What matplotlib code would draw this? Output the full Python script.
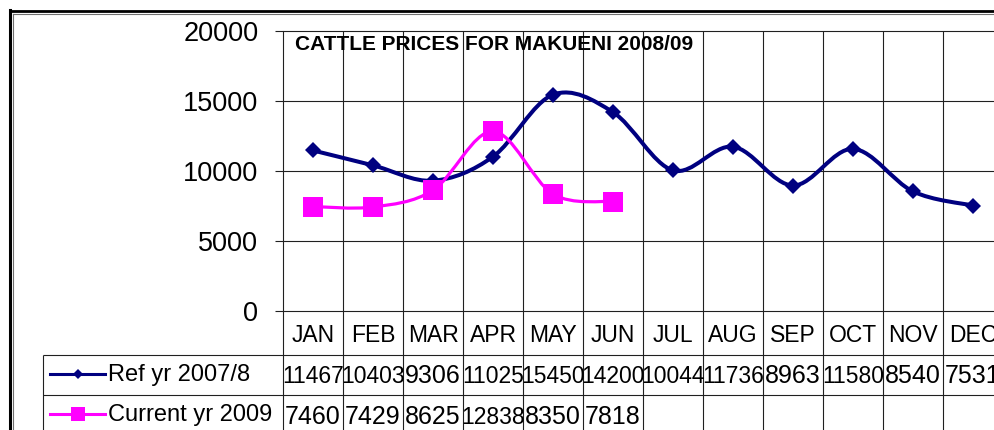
import numpy as np
import matplotlib
matplotlib.use("Agg")
import matplotlib.pyplot as plt
import matplotlib.transforms as mtrans
from matplotlib.path import Path
from matplotlib.patches import PathPatch
from matplotlib.lines import Line2D

months = ["JAN", "FEB", "MAR", "APR", "MAY", "JUN",
          "JUL", "AUG", "SEP", "OCT", "NOV", "DEC"]
ref_label = "Ref yr 2007/8"
ref_prices = [11467, 10403, 9306, 11025, 15450, 14200,
              10044, 11736, 8963, 11580, 8540, 7531]
cur_label = "Current yr 2009"
cur_prices = [7460, 7429, 8625, 12838, 8350, 7818]
yticks = [0, 5000, 10000, 15000, 20000]
title = "CATTLE PRICES FOR MAKUENI 2008/09"

NAVY = "#000080"
MAGENTA = "#ff00ff"
GRID = "#202020"

plt.rcParams.update({'font.family': 'Liberation Sans',
                     'figure.facecolor': 'w'})

W, H = 995, 430


def fx(px):
    return px / W


def fy(py):
    return 1 - py / H


def smooth_path(xs, ys):
    # excel style smoothed line (cubic bezier through the points)
    pts = np.column_stack([xs, ys]).astype(float)
    n = len(pts)
    verts = [pts[0]]
    codes = [Path.MOVETO]
    for i in range(n - 1):
        p0 = pts[i - 1] if i > 0 else pts[i]
        p1 = pts[i]
        p2 = pts[i + 1]
        p3 = pts[i + 2] if i + 2 < n else pts[i + 1]
        verts += [p1 + (p2 - p0) / 6, p2 - (p3 - p1) / 6, p2]
        codes += [Path.CURVE4] * 3
    return Path(verts, codes)


fig = plt.figure(figsize=(W / 100, H / 100), dpi=100)
ax = fig.add_axes([fx(283), fy(311), 720 / W, 280 / H])
blend = mtrans.blended_transform_factory(ax.transData, fig.transFigure)

x = np.arange(len(months))
ax.set_xlim(-0.5, len(months) - 0.5)
ax.set_ylim(0, 20000)

for s in ax.spines.values():
    s.set_visible(False)

ax.set_yticks(yticks)
ax.set_yticklabels([str(v) for v in yticks])
ax.tick_params(axis='y', length=5.8, width=0.8, color=GRID, pad=12,
               labelsize=19.5)
ax.set_xticks([])
ax.yaxis.grid(True, color=GRID, lw=0.8)
for gl in ax.get_ygridlines():
    gl.set_clip_on(False)
ax.set_axisbelow(True)

# category lines running through plot and data table
edges = np.arange(len(months) + 1) - 0.5
ax.vlines(edges, fy(440), fy(31), transform=blend, color=GRID, lw=0.8,
          clip_on=False)
tab_left = -4.5
ax.hlines([fy(355), fy(395)], tab_left, len(months) + 1, transform=blend,
          color=GRID, lw=0.8, clip_on=False)
ax.vlines([tab_left], fy(440), fy(355), transform=blend, color=GRID, lw=0.8,
          clip_on=False)

# series
ax.add_patch(PathPatch(smooth_path(x, ref_prices), fill=False,
                       edgecolor=NAVY, lw=2.9, capstyle='round',
                       joinstyle='round', zorder=3))
ax.plot(x, ref_prices, ls='none', marker='D', ms=8, color=NAVY, mew=0,
        zorder=4)
xc = x[:len(cur_prices)]
ax.add_patch(PathPatch(smooth_path(xc, cur_prices), fill=False,
                       edgecolor=MAGENTA, lw=2.3, capstyle='round',
                       joinstyle='round', zorder=5))
ax.plot(xc, cur_prices, ls='none', marker='s', ms=14, color=MAGENTA, mew=0,
        zorder=6)

# category labels
for i, m in enumerate(months):
    ax.text(i, fy(341.5), m, transform=blend, ha='center', va='baseline',
            fontsize=16.5, clip_on=False)

# data table values (long numbers squeezed a little, like excel does)
for row_y, vals in [(383, ref_prices), (423.5, cur_prices)]:
    for i, v in enumerate(vals):
        s = str(v)
        fs = 18 if len(s) <= 4 else 16.5
        ax.text(i, fy(row_y), s, transform=blend, ha='center',
                va='baseline', fontsize=fs, clip_on=False)

# legend keys in table
fig.add_artist(Line2D([fx(50), fx(105)], [fy(374), fy(374)], color=NAVY,
                      lw=2.2))
fig.add_artist(Line2D([fx(77.5)], [fy(374)], marker='D', ms=5.5, color=NAVY,
                      mew=0))
fig.add_artist(Line2D([fx(50), fx(105)], [fy(413.5), fy(413.5)],
                      color=MAGENTA, lw=2.2))
fig.add_artist(Line2D([fx(77.5)], [fy(413.5)], marker='s', ms=9.5,
                      color=MAGENTA, mew=0))
fig.text(fx(108), fy(381.5), ref_label, fontsize=17, va='baseline')
fig.text(fx(108), fy(420.5), cur_label, fontsize=17, va='baseline')

# chart title
fig.text(fx(295), fy(50.5), title, fontsize=15, fontweight='bold',
         va='baseline')

# outer chart border (double line)
fig.add_artist(Line2D([fx(10.5), fx(10.5)], [fy(10), fy(440)], color='k',
                      lw=2.2))
fig.add_artist(Line2D([fx(9.5), fx(1000)], [fy(11), fy(11)], color='k',
                      lw=2.0))
fig.add_artist(Line2D([fx(13.5), fx(13.5)], [fy(13.5), fy(440)],
                      color='#707070', lw=0.8))
fig.add_artist(Line2D([fx(13.5), fx(1000)], [fy(14), fy(14)],
                      color='#707070', lw=0.8))

fig.savefig("out.png", dpi=100)
